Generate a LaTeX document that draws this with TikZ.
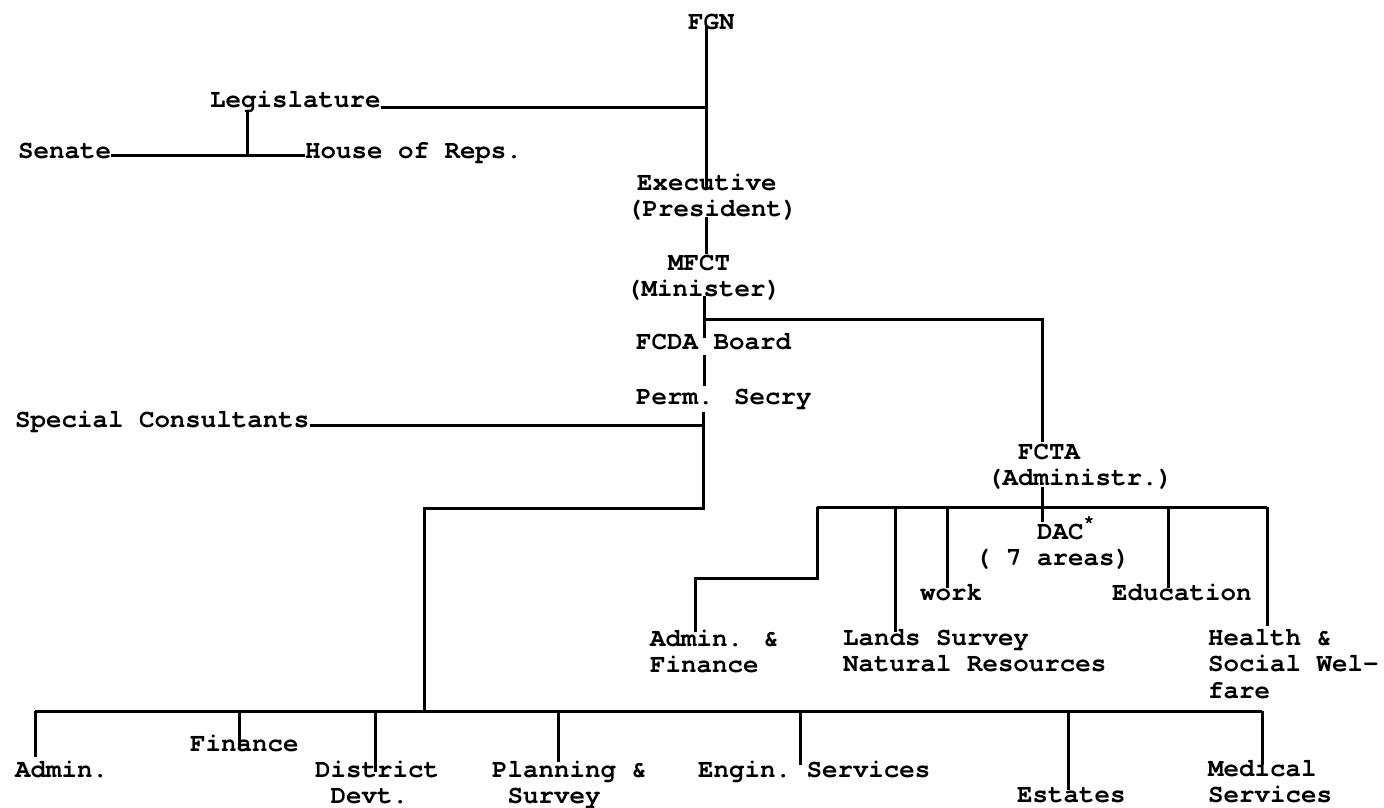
\documentclass[tikz,border=0pt]{standalone}
\usepackage{fontspec}
\setmainfont{TeX Gyre Cursor}
\newcommand{\lcol}[1]{\begin{tabular}[t]{@{}l@{}}#1\end{tabular}}
\begin{document}
\begin{tikzpicture}[x=1pt,y=-1pt,
  lbl/.style={anchor=base west,inner sep=0pt,font=\fontsize{25.8}{26.6}\selectfont\bfseries},
  conn/.style={line width=3pt,line cap=butt}]
\useasboundingbox[fill=white] (0,0) rectangle (1384,808);
% ---- upper column
\node[lbl] (fgn)  at (688,30)  {FGN};
\node[lbl] (leg)  at (210,107) {Legislature};
\node[lbl] (sen)  at (18,158)  {Senate};
\node[lbl] (hor)  at (305,158) {House of Reps.};
\node[lbl] (exec) at (627,190) {\lcol{\hspace{10pt}Executive\\(President)}};
\node[lbl] (mfct) at (626,270) {\lcol{\hspace{42pt}MFCT\\(Minister)}};
\node[lbl] (fcda) at (636,349) {FCDA Board};
\node[lbl] (perm) at (636,404) {Perm. Secry};
\node[lbl] (sc)   at (15,427)  {Special Consultants};
% ---- FCTA branch
\node[lbl] (fcta) at (987,459) {\lcol{\hphantom{(A}FCTA\\(Administr.)}};
\node[lbl] (dac)  at (975,539) {\lcol{\hphantom{(\ \ a}DAC\raisebox{0.45em}{\fontsize{18}{18}\selectfont *}\\( 7 areas)}};
\node[lbl] (work) at (920,600) {work};
\node[lbl] (edu)  at (1112,600) {Education};
\node[lbl] (adf)  at (650,646) {\lcol{Admin. \&\\Finance}};
\node[lbl] (lands) at (843,645) {\lcol{Lands Survey\\Natural Resources}};
\node[lbl] (hlth) at (1208,645) {\lcol{Health \&\\Social Wel-\\fare}};
% ---- bottom row
\node[lbl] (adm)  at (15,777)  {Admin.};
\node[lbl] (fin)  at (190,751) {Finance};
\node[lbl] (dist) at (315,777) {\lcol{District\\\hphantom{D}Devt.}};
\node[lbl] (plan) at (492,777) {\lcol{Planning \&\\\hphantom{P}Survey}};
\node[lbl] (eng)  at (698,777) {Engin.\ Services};
\node[lbl] (est)  at (1017,802) {Estates};
\node[lbl] (med)  at (1208,776) {\lcol{Medical\\Services}};
% ---- junction coordinates
\coordinate (cx)   at (706,25);
\coordinate (legJ) at (247,155);
\coordinate (mJ)   at (704,319);
\coordinate (fJ)   at (1042,319);
\coordinate (pJ)   at (703,508);
\coordinate (bJ)   at (424,508);
\coordinate (bus)  at (424,711);
\coordinate (rL)   at (817,507);
\coordinate (rR)   at (1267,507);
% ---- connectors, upper part
\draw[conn] (cx) -- (exec.base -| cx);
\draw[conn] (leg.base east) -- (leg.base east -| cx);
\draw[conn] (leg.south -| legJ) -- (legJ);
\draw[conn] (sen.east |- legJ) -- (hor.west |- legJ);
\draw[conn] (706,217) -- (706,254);
\draw[conn] (704,296) -- (704,338);
\draw[conn] (mJ) -- (fJ) -- (1042,442);
\draw[conn] (704,355) -- (704,386);
\draw[conn] (703,412) -- (pJ) -- (bJ) -- (bus);
\draw[conn] (sc.east |- 0,425) -- (703,425);
% ---- FCTA branch
\draw[conn] (1042,487) -- (1042,522);
\draw[conn] (rL) -- (rR);
\draw[conn] (rL) -- (817,578) -- (695,578) -- (695,632);
\draw[conn] (895,507) -- (895,632);
\draw[conn] (947,507) -- (947,588);
\draw[conn] (1168,507) -- (1168,588);
\draw[conn] (rR) -- (1267,626);
% ---- bottom bus
\draw[conn] (35,711) -- (1262,711);
\draw[conn] (35,711) -- (35,757);
\draw[conn] (239,711) -- (239,749);
\draw[conn] (375,711) -- (375,772);
\draw[conn] (558,711) -- (558,762);
\draw[conn] (800,711) -- (800,765);
\draw[conn] (1068,711) -- (1068,790);
\draw[conn] (1262,711) -- (1262,765);
\end{tikzpicture}
\end{document}
